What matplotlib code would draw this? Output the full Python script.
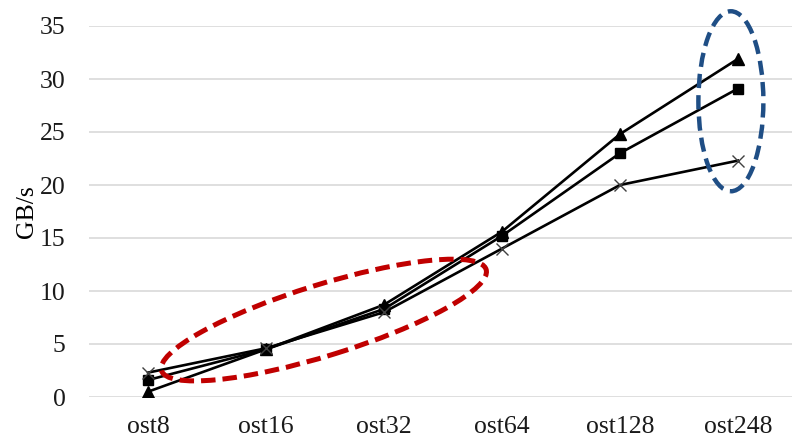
import matplotlib
matplotlib.use("Agg")
import matplotlib.pyplot as plt
import matplotlib.transforms as mtransforms
from matplotlib.patches import Ellipse

categories = ["ost8", "ost16", "ost32", "ost64", "ost128", "ost248"]
tri_vals = [0.5, 4.5, 8.7, 15.6, 24.8, 31.9]
sq_vals = [1.6, 4.5, 8.3, 15.2, 23.0, 29.1]
x_vals = [2.3, 4.6, 8.0, 14.0, 20.0, 22.3]
yticks = [0, 5, 10, 15, 20, 25, 30, 35]

plt.rcParams['font.family'] = ['Liberation Serif', 'DejaVu Serif']

fig = plt.figure(figsize=(7.92, 4.45), dpi=100)
ax = fig.add_axes([89 / 792, 1 - 397 / 445, 703 / 792, 371 / 445])

pos = list(range(len(categories)))
ax.plot(pos, tri_vals, color='black', lw=1.9, marker='^', ms=8, zorder=3)
ax.plot(pos, sq_vals, color='black', lw=1.9, marker='s', ms=7, zorder=3)
ax.plot(pos, x_vals, color='black', lw=1.9, marker='x', ms=8,
        mec='#404040', mew=1.0, zorder=3)

ax.set_xlim(-0.5, 5.458)
ax.set_ylim(0, 35)
ax.set_yticks(yticks)
ax.set_xticks(pos)
ax.set_xticklabels(categories)
ax.tick_params(length=0, labelsize=18.5, colors='#1a1a1a')
ax.tick_params(axis='y', pad=17)
ax.tick_params(axis='x', pad=14)
ax.grid(axis='y', color='#d9d9d9', lw=1.2)
ax.set_axisbelow(True)
for s in ax.spines.values():
    s.set_visible(False)
ax.set_ylabel("GB/s", fontsize=18.5)
ax.yaxis.set_label_coords(-0.072, 0.5)

# dashed ellipses highlighting the low and high ends
def ring(cx, cy, w, h, angle, color, lw, dashes):
    trans = fig.dpi_scale_trans + mtransforms.ScaledTranslation(cx, cy, ax.transData)
    e = Ellipse((0, 0), w, h, angle=angle, fill=False, edgecolor=color,
                lw=lw, linestyle=(0, dashes), transform=trans, zorder=4,
                clip_on=False)
    ax.add_patch(e)

ring(1.49, 7.26, 3.40, 0.71, 17.3, '#c00000', 3.6, (2.9, 1.4))
ring(4.94, 27.9, 0.65, 1.80, 0, '#1f4e85', 3.2, (3.2, 1.6))

fig.savefig("out.png", dpi=100)
